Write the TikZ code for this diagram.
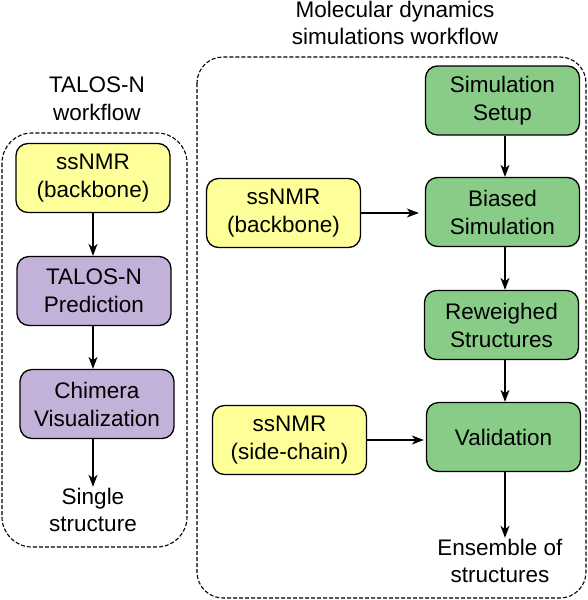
\documentclass[tikz,border=0pt]{standalone}
\usepackage{fontspec}
\setmainfont{Liberation Sans}
\usetikzlibrary{arrows.meta}
\definecolor{nmryellow}{HTML}{FFFF99}
\definecolor{talpurple}{HTML}{C2B1D8}
\definecolor{mdgreen}{HTML}{88CC88}
\tikzset{
  box/.style={draw=black, line width=1.3pt, rounded corners=12pt, align=center,
    minimum width=154pt, minimum height=69pt, inner sep=0pt,
    font=\fontsize{22.5}{28}\selectfont},
  ybox/.style={box, fill=nmryellow},
  pbox/.style={box, fill=talpurple},
  gbox/.style={box, fill=mdgreen},
  plain/.style={align=center, inner sep=1pt, font=\fontsize{22.5}{27.5}\selectfont},
  arr/.style={-{Stealth[length=12pt,width=9pt,inset=3.5pt]}, line width=1.3pt},
  frame/.style={draw=black, line width=1.1pt, dash pattern=on 4pt off 2pt}
}
\begin{document}
\begin{tikzpicture}[x=1pt,y=-1pt]
\useasboundingbox (0,0) rectangle (588,600);
% frames
\draw[frame, rounded corners=30pt] (2,133) rectangle (187,547);
\draw[frame, rounded corners=26pt] (197,57) rectangle (586,598);
% titles
\node[plain] (tt) at (97,99) {TALOS-N\\workflow};
\node[plain] (mt) at (395,23) {Molecular dynamics\\simulations workflow};
% left column
\node[ybox] (l1) at (93,178) {ssNMR\\(backbone)};
\node[pbox] (l2) at (94,291) {TALOS-N\\Prediction};
\node[pbox] (l3) at (97,404) {Chimera\\Visualization};
\node[plain] (l4) at (93,510) {Single\\structure};
\draw[arr] (l1.south -| 93,0) -- (l2.north -| 93,0);
\draw[arr] (l2.south -| 93,0) -- (l3.north -| 93,0);
\draw[arr] (l3.south -| 93,0) -- (l4.north -| 93,0);
% right column
\node[gbox] (r1) at (502.5,100.5) {Simulation\\Setup};
\node[gbox] (r2) at (502.5,212) {Biased\\Simulation};
\node[ybox] (rb) at (283.5,213) {ssNMR\\(backbone)};
\node[gbox] (r3) at (501.5,325) {Reweighed\\Structures};
\node[gbox] (r4) at (503.5,437) {Validation};
\node[ybox] (rs) at (289.5,440) {ssNMR\\(side-chain)};
\node[plain] (r5) at (500,561) {Ensemble of\\structures};
\draw[arr] (r1.south -| 505,0) -- (r2.north -| 505,0);
\draw[arr] (r2.south -| 505,0) -- (r3.north -| 505,0);
\draw[arr] (r3.south -| 505,0) -- (r4.north -| 505,0);
\draw[arr] (r4.south -| 505,0) -- (r5.north -| 505,0);
\draw[arr, shorten >=6pt] (rb.east) -- (rb.east -| r2.west);
\draw[arr, shorten >=2pt] (rs.east) -- (rs.east -| r4.west);
\end{tikzpicture}
\end{document}
